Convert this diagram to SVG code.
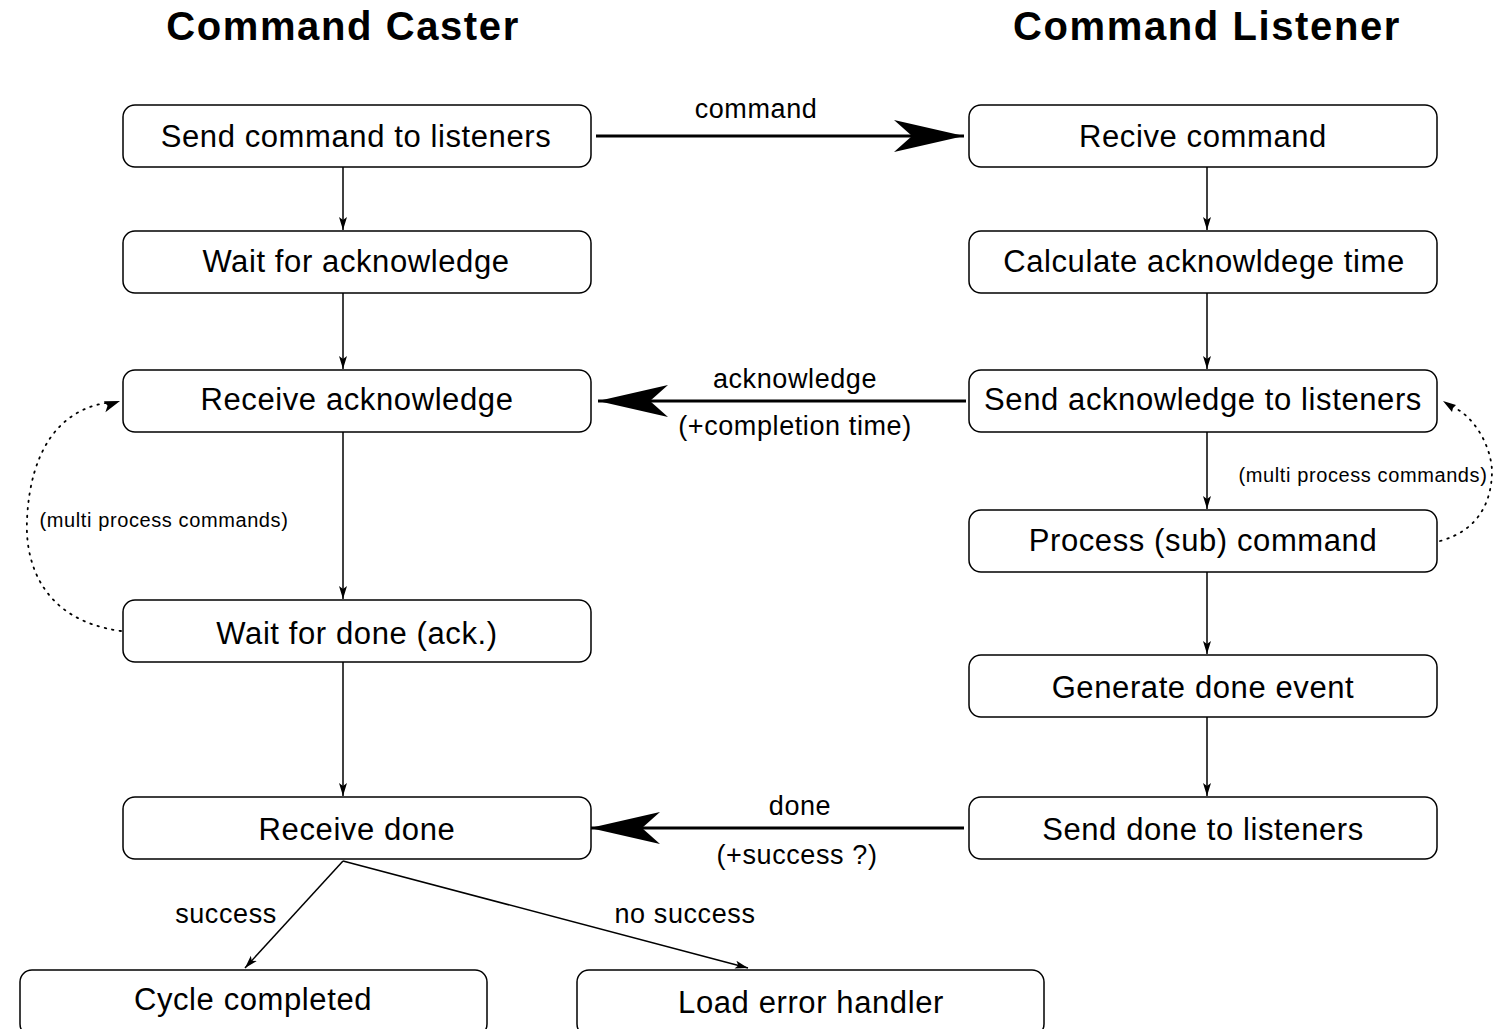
<svg xmlns="http://www.w3.org/2000/svg" width="1493" height="1029" viewBox="0 0 1493 1029">
<style>
.box{fill:#fff;stroke:#000;stroke-width:1.5}
.t{font-family:"Liberation Sans",Arial,sans-serif;font-size:31px;letter-spacing:0.6px;text-anchor:middle;fill:#000}
.h{font-family:"Liberation Sans",Arial,sans-serif;font-size:40px;letter-spacing:1.6px;font-weight:bold;text-anchor:middle;fill:#000}
.l{font-family:"Liberation Sans",Arial,sans-serif;font-size:27px;letter-spacing:0.6px;text-anchor:middle;fill:#000}
.s{font-family:"Liberation Sans",Arial,sans-serif;font-size:20px;letter-spacing:0.6px;text-anchor:middle;fill:#000}
.c{stroke:#000;stroke-width:1.5;fill:none}
.b{stroke:#000;stroke-width:3;fill:none}
.d{stroke:#000;stroke-width:1.8;fill:none;stroke-dasharray:1.5 6;stroke-linecap:round}
</style>
<defs>
<marker id="sm" markerWidth="14" markerHeight="10" refX="13" refY="5" orient="auto" markerUnits="userSpaceOnUse">
<path d="M0,1 L13,5 L0,9 L3,5 Z" fill="#000"/>
</marker>
<marker id="big" markerWidth="72" markerHeight="34" refX="70" refY="17" orient="auto" markerUnits="userSpaceOnUse">
<path d="M0,1 L70,17 L0,33 L18,17 Z" fill="#000"/>
</marker>
</defs>
<rect width="1493" height="1029" fill="#fff"/>
<text class="h" x="343" y="40">Command Caster</text>
<text class="h" x="1207" y="40">Command Listener</text>
<g id="connectors">
<line class="c" x1="343" y1="167" x2="343" y2="230" marker-end="url(#sm)"/>
<line class="c" x1="343" y1="293" x2="343" y2="369" marker-end="url(#sm)"/>
<line class="c" x1="343" y1="432" x2="343" y2="599" marker-end="url(#sm)"/>
<line class="c" x1="343" y1="662" x2="343" y2="796" marker-end="url(#sm)"/>
<line class="c" x1="1207" y1="167" x2="1207" y2="230" marker-end="url(#sm)"/>
<line class="c" x1="1207" y1="293" x2="1207" y2="369" marker-end="url(#sm)"/>
<line class="c" x1="1207" y1="432" x2="1207" y2="509" marker-end="url(#sm)"/>
<line class="c" x1="1207" y1="572" x2="1207" y2="654" marker-end="url(#sm)"/>
<line class="c" x1="1207" y1="717" x2="1207" y2="796" marker-end="url(#sm)"/>
<line class="b" x1="596" y1="136" x2="964" y2="136" marker-end="url(#big)"/>
<line class="b" x1="966" y1="401" x2="598" y2="401" marker-end="url(#big)"/>
<line class="b" x1="964" y1="828" x2="590" y2="828" marker-end="url(#big)"/>
<line class="c" x1="343" y1="861" x2="245" y2="968" marker-end="url(#sm)"/>
<line class="c" x1="343" y1="861" x2="748" y2="968" marker-end="url(#sm)"/>
<path class="d" d="M121,631 C40,620 25,560 27,520 C30,450 60,410 106,403"/>
<path d="M120,401 L104,399 L107,404 L104,410 Z" fill="#000" transform="rotate(-8 120 401)"/>
<path class="d" d="M1440,541 C1480,530 1492,500 1492,470 C1490,440 1470,415 1455,408"/>
<path d="M1443,401 L1456,405 L1453,408 L1452,412 Z" fill="#000"/>
<text class="l" x="756" y="118">command</text>
<text class="l" x="795" y="388">acknowledge</text>
<text class="l" x="795" y="435">(+completion time)</text>
<text class="l" x="800" y="815">done</text>
<text class="l" x="797" y="864">(+success ?)</text>
<text class="l" x="226" y="923">success</text>
<text class="l" x="685" y="923">no success</text>
<text class="s" x="164" y="527">(multi process commands)</text>
<text class="s" x="1363" y="482">(multi process commands)</text>
</g>
<g id="n1"><rect class="box" x="123" y="105" width="468" height="62" rx="12"/><text class="t" x="356" y="147">Send command to listeners</text></g>
<g id="n2"><rect class="box" x="123" y="231" width="468" height="62" rx="12"/><text class="t" x="356" y="272">Wait for acknowledge</text></g>
<g id="n3"><rect class="box" x="123" y="370" width="468" height="62" rx="12"/><text class="t" x="357" y="410">Receive acknowledge</text></g>
<g id="n4"><rect class="box" x="123" y="600" width="468" height="62" rx="12"/><text class="t" x="357" y="644">Wait for done (ack.)</text></g>
<g id="n5"><rect class="box" x="123" y="797" width="468" height="62" rx="12"/><text class="t" x="357" y="840">Receive done</text></g>
<g id="n6"><rect class="box" x="969" y="105" width="468" height="62" rx="12"/><text class="t" x="1203" y="147">Recive command</text></g>
<g id="n7"><rect class="box" x="969" y="231" width="468" height="62" rx="12"/><text class="t" x="1204" y="272">Calculate acknowldege time</text></g>
<g id="n8"><rect class="box" x="969" y="370" width="468" height="62" rx="12"/><text class="t" x="1203" y="410">Send acknowledge to listeners</text></g>
<g id="n9"><rect class="box" x="969" y="510" width="468" height="62" rx="12"/><text class="t" x="1203" y="551">Process (sub) command</text></g>
<g id="n10"><rect class="box" x="969" y="655" width="468" height="62" rx="12"/><text class="t" x="1203" y="698">Generate done event</text></g>
<g id="n11"><rect class="box" x="969" y="797" width="468" height="62" rx="12"/><text class="t" x="1203" y="840">Send done to listeners</text></g>
<g id="n12"><rect class="box" x="20" y="970" width="467" height="66" rx="12"/><text class="t" x="253" y="1010">Cycle completed</text></g>
<g id="n13"><rect class="box" x="577" y="970" width="467" height="66" rx="12"/><text class="t" x="811" y="1013">Load error handler</text></g>
</svg>
